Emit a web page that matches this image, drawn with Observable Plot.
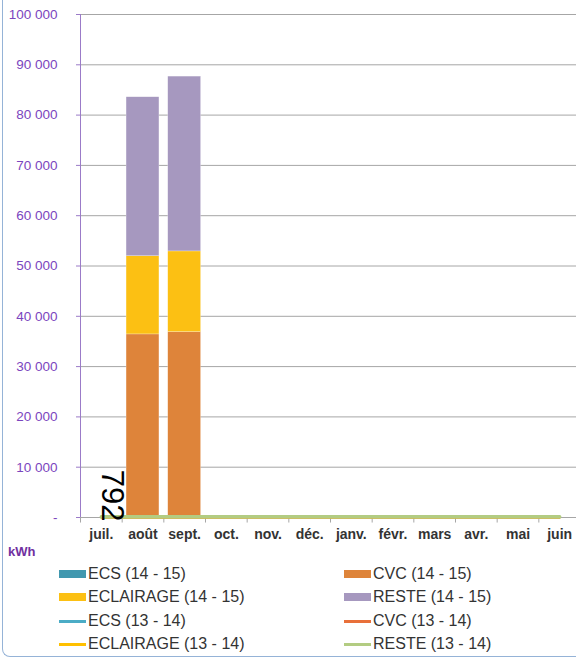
<!DOCTYPE html>
<html><head><meta charset="utf-8">
<script src="https://cdn.jsdelivr.net/npm/d3@7"></script>
<script src="https://cdn.jsdelivr.net/npm/@observablehq/plot@0.6"></script>
<style>
body{margin:0;background:#fff;font-family:"Liberation Sans",Arial,sans-serif;}
#wrap{position:relative;width:576px;height:659px;overflow:hidden;}
#frame{position:absolute;left:2px;top:-20px;width:700px;height:676px;border-left:1px solid #95B3D7;border-bottom:1px solid #95B3D7;border-bottom-left-radius:8px;}
#chart{position:absolute;left:0;top:0;}
#unit{position:absolute;left:8px;top:544px;font-size:13px;font-weight:bold;color:#7030A0;}
.lg{position:absolute;font-size:16px;color:#333;line-height:18px;white-space:nowrap;}
.sw{position:absolute;}
</style></head>
<body><div id="wrap"><div id="frame"></div><div id="chart"></div><div id="unit">kWh</div><div id="legend"></div></div>
<script>
const months = ["juil.","août","sept.","oct.","nov.","déc.","janv.","févr.","mars","avr.","mai","juin"];
const ecs1415 = [0,0,0,0,0,0,0,0,0,0,0,0];
const cvc1415 = [0,36400,36850,0,0,0,0,0,0,0,0,0];
const ecl1415 = [0,15550,16050,0,0,0,0,0,0,0,0,0];
const reste1415 = [0,31600,34750,0,0,0,0,0,0,0,0,0];
const ecs1314 = [0,0,0,0,0,0,0,0,0,0,0,0];
const cvc1314 = [0,0,0,0,0,0,0,0,0,0,0,0];
const ecl1314 = [0,0,0,0,0,0,0,0,0,0,0,0];
const reste1314 = [150,150,150,150,150,150,150,150,150,150,150,150];
const yTicks = [0,10000,20000,30000,40000,50000,60000,70000,80000,90000,100000];
const dataLabel = {month:"juil.", text:"792"};

const barSeries = [
  {name:"ECS (14 - 15)", values:ecs1415, color:"#4198AF"},
  {name:"CVC (14 - 15)", values:cvc1415, color:"#DE843A"},
  {name:"ECLAIRAGE (14 - 15)", values:ecl1415, color:"#FCC013"},
  {name:"RESTE (14 - 15)", values:reste1415, color:"#A698BF"}
];
const lineSeries = [
  {name:"ECS (13 - 14)", values:ecs1314, color:"#4BACC6", w:2},
  {name:"CVC (13 - 14)", values:cvc1314, color:"#E8703A", w:2},
  {name:"ECLAIRAGE (13 - 14)", values:ecl1314, color:"#FFC000", w:2},
  {name:"RESTE (13 - 14)", values:reste1314, color:"#B3CC82", w:3.5}
];
const bars = barSeries.flatMap(s => months.map((m,i) => ({month:m, series:s.name, value:s.values[i]})));
const lines = lineSeries.flatMap(s => months.map((m,i) => ({month:m, series:s.name, value:s.values[i]})));
const colorDomain = [...barSeries, ...lineSeries].map(s=>s.name);
const colorRange = [...barSeries, ...lineSeries].map(s=>s.color);
const xRange = [80, 580];
const bw = (xRange[1]-xRange[0])/months.length;
const fmt = v => v === 0 ? "-" : d3.format(",")(v).replace(/,/g," ");

const plot = Plot.plot({
  width:576, height:545,
  marginLeft:80, marginRight:0, marginTop:14, marginBottom:28,
  style:{fontFamily:"'Liberation Sans',Arial,sans-serif", background:"transparent", overflow:"visible"},
  x:{domain:months, padding:0, range:xRange, round:false, axis:null, label:null},
  y:{domain:[0,100000], axis:null, label:null},
  color:{domain:colorDomain, range:colorRange},
  marks:[
    Plot.ruleY(yTicks, {y:d=>d, stroke:"#A6A6A6", strokeWidth:1}),
    Plot.axisY({ticks:yTicks, tickFormat:fmt, tickSize:4, tickPadding:19, stroke:"#9B7BC8", color:"#7B45BE", fontSize:13.5, label:null}),
    Plot.ruleX([months[0]], {x:d=>d, dx:-bw/2, y1:0, y2:100000, stroke:"#9B7BC8", strokeWidth:1}),
    Plot.ruleX(months, {x:d=>d, dx:-bw/2, y1:0, y2:-1100, stroke:"#A6A6A6"}),
    Plot.axisX({tickSize:0, tickPadding:12, fontSize:14, fontWeight:"bold", color:"#333", label:null}),
    Plot.barY(bars, Plot.stackY({x:"month", y:"value", fill:"series", order:colorDomain.slice(0,4), insetLeft:4.4, insetRight:4.4, stroke:"#fff", strokeOpacity:0.5, strokeWidth:0.5})),
    ...lineSeries.map(s => Plot.lineY(lines.filter(d=>d.series===s.name), {x:"month", y:"value", stroke:s.color, strokeWidth:s.w})),
    Plot.text([dataLabel], {x:"month", y:()=>0, text:"text", rotate:90, textAnchor:"end", lineAnchor:"middle", fontSize:31, fill:"#000", dx:10.5, dy:4})
  ]
});
document.getElementById("chart").appendChild(plot);

const legendItems = [
  {s:barSeries[0], col:0, row:0, type:"bar"},
  {s:barSeries[1], col:1, row:0, type:"bar"},
  {s:barSeries[2], col:0, row:1, type:"bar"},
  {s:barSeries[3], col:1, row:1, type:"bar"},
  {s:lineSeries[0], col:0, row:2, type:"line"},
  {s:lineSeries[1], col:1, row:2, type:"line"},
  {s:lineSeries[2], col:0, row:3, type:"line"},
  {s:lineSeries[3], col:1, row:3, type:"line"}
];
const colX = [59, 344], rowY = [574, 597, 621, 644];
const lg = document.getElementById("legend");
legendItems.forEach(it => {
  const sw = document.createElement("div");
  sw.className = "sw";
  const h = it.type==="bar" ? 8 : 3;
  sw.style.cssText = `left:${colX[it.col]}px;top:${rowY[it.row]-h/2}px;width:27px;height:${h}px;background:${it.s.color};`;
  lg.appendChild(sw);
  const t = document.createElement("div");
  t.className = "lg";
  t.textContent = it.s.name;
  t.style.left = (colX[it.col]+29)+"px";
  t.style.top = (rowY[it.row]-9)+"px";
  lg.appendChild(t);
});
</script></body></html>
